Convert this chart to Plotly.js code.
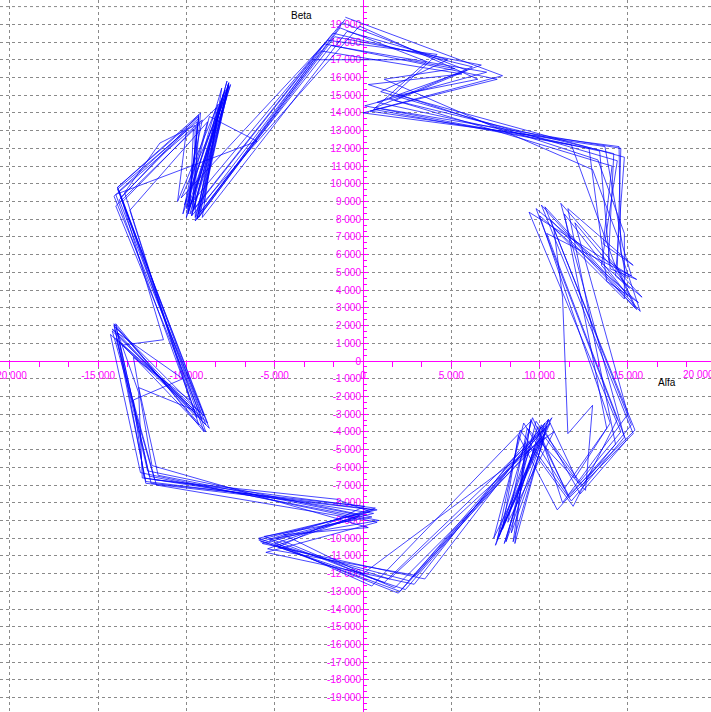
<!DOCTYPE html>
<html>
<head>
<meta charset="utf-8">
<script src="https://cdn.plot.ly/plotly-3.0.1.min.js"></script>
<style>
  html, body { margin: 0; padding: 0; background: #ffffff; }
  #chart { width: 711px; height: 712px; }
</style>
</head>
<body>
<div id="chart"></div>
<script>
// Alfa / Beta trajectory (one row per revolution)
const alfa = [
  -1000, 7900, 0, 14500, 14600, 15700, 10300, 15400, 11600, 9600, 7500, 10500, 2000, -5900, 800, -12300, -14100, -8900, -13900, -9300, -9900, -7600, -9400,
  -1600, 6700, 800, 13400, 14000, 15500, 9400, 14600, 12200, 10500, 8600, 9200, 2900, -5500, 800, -12600, -14300, -9100, -14000, -8300, -9400, -7700, -10300,
  -2000, 4200, 1500, 14100, 13600, 15300, 11600, 14300, 11000, 8800, 7900, 10100, 1500, -5000, -200, -11600, -12700, -9500, -13600, -11300, -13700, -10000, -10500, -8200, -9000,
  -2400, 5600, 300, 13300, 14800, 14800, 10800, 11300, 11600, 13000, 12600, 9300, 8200, 10800, 0, -4500, 300, -11950, -13000, -9800, -13200, -8800, -10100, -7800, -9700,
  -200, 6500, 2000, 14800, 14300, 15100, 12000, 15000, 11300, 9900, 7700, 10300, 3500, -5700, -400, -11700, -14000, -9300, -13500, -11500, -9500, -9600, -7600, -9200,
  -1300, 3600, 600, 12800, 13800, 15600, 10000, 14000, 12000, 10300, 8400, 9500, 500, -5300, 600, -12400, -13000, -10200, -14200, -8700, -14100, -9100, -10200, -7900, -9500,
  -2800, 2500, 5200, 1200, 13000, 14500, 14900, 11200, 14800, 11800, 8900, 7600, 10200, 2400, -4800, 100, -12000, -13800, -9000, -13600, -9600, -9800, -8000, -9300,
  -1800, 7000, 100, 11800, 14200, 15400, 10600, 15200, 12400, 9800, 8100, 10400, 1200, -5600, 500, -12200, -14100, -8900, -13800, -9300, -10000, -7500, -9600,
  -1200, 5900, 1800, 14200, 13900, 15800, 9800, 14400, 11900, 9400, 7800, 10600, 2600, -5800, 700, -12500, -12700, -14000, -9200, -13800, -9200, -9700, -7700, -9800,
  -2200, 7600, 400, 13700, 14700, 15200, 10400, 14900, 12300, 10100, 8000, 9700, 1800, -4900, 900, -12100, -13900, -9400, -14000, -6000, -8700, -10000, -8000, -9100,
  -900, 4800, 1000, 14400, 13500, 15000, 11400, 13800, 11400, 9100, 7400, 10700, 3000, -5400, 400, -1500, -11800, -14200, -8800, -13900, -9400, -9500, -7600, -9900,
  -1700, 6200, 700, 14600, 14400, 15500, 10100, 15300, 11700, 9500, 8500, 10300, 2100, -5900, 600, -12300, -14000, -9000, -13900, -9300, -9900, -7600, -9300,
  -1000
];
const beta = [
  19400, 16100, 14000, 12100, 6100, 2800, 8700, -3900, -7600, -3200, -10400, -3300, -13100, -10000, -8400, -6800, 2100, -4000, 9800, 13900, 8400, 15700, 8000,
  18300, 16700, 14600, 11850, 5200, 4600, 8400, -4000, -6900, -3300, -10300, -4600, -12600, -10800, -9100, -6300, 1500, -3300, 8750, 14300, 8000, 15000, 9200,
  18100, 17300, 14800, 11000, 6600, 5400, 8600, -4700, -8400, -4200, -9500, -4400, -12300, -10300, -8700, -6450, -1500, -2800, 900, 1200, 9250, 13000, 9000, 14500, 8900,
  17500, 16200, 15600, 11350, 7200, 3500, 7500, 3600, -4100, -2500, -7300, -3800, -9100, -4000, -12000, -9800, -9400, -5900, 200, -2200, 8500, 13500, 8800, 15300, 8200,
  18900, 15900, 15000, 11500, 4800, 4100, 7800, -3000, -8000, -3700, -9900, -3500, -12300, -10300, -8900, -7000, 1300, -3600, 9500, 12300, 13300, 8600, 15500, 8400,
  18800, 16900, 14200, 12000, 4500, 3300, 8200, -3500, -6600, -4300, -9700, -3400, -12700, -10100, -8600, -6600, -2200, -1000, 1800, -3800, 9300, 13600, 8300, 15100, 7900,
  17000, 17000, 16500, 15900, 10800, 6800, 4700, 8900, -4300, -7900, -3900, -10100, -3900, -12900, -10500, -8200, -6900, 1100, -3100, 9000, 13100, 8700, 14800, 8300,
  17800, 16300, 14400, 12200, 5600, 3000, 8000, -3600, -7000, -3400, -10200, -3700, -12500, -9900, -8800, -6200, 2000, -3600, 9600, 13700, 8100, 15600, 8500,
  19100, 16400, 14700, 11700, 5700, 3600, 8600, -3300, -8200, -4800, -9600, -3500, -12400, -10200, -8300, -6600, -1800, 1900, -2900, 9100, 14000, 8200, 15800, 8300,
  17900, 15900, 14100, 12100, 6500, 4800, 7200, -4500, -7500, -3600, -10300, -4900, -12800, -10000, -9000, -6500, 1600, -3200, 9400, 12400, 13800, 8600, 15400, 8100,
  18600, 17000, 15200, 11300, 5400, 3700, 8300, -3800, -7200, -3500, -10000, -3200, -12100, -10600, -8500, -7800, -6700, 1700, -3500, 9700, 13500, 8100, 15600, 8700,
  18500, 16600, 14300, 12000, 5300, 2900, 8800, -4100, -7700, -3300, -10200, -4100, -13000, -10100, -8400, -6900, 2100, -4000, 9800, 13800, 8300, 15700, 8100,
  19300
];

// Axis ticks
const xTickVals = [-20000, -15000, -10000, -5000, 0, 5000, 10000, 15000];
const yTickVals = [-19000, -18000, -17000, -16000, -15000, -14000, -13000, -12000, -11000, -10000,
                   -9000, -8000, -7000, -6000, -5000, -4000, -3000, -2000, -1000, 0,
                   1000, 2000, 3000, 4000, 5000, 6000, 7000, 8000, 9000, 10000,
                   11000, 12000, 13000, 14000, 15000, 16000, 17000, 18000, 19000];

// "19 000" style: space as thousands separator, plain hyphen for negatives
function fmt(v) {
  const digits = Math.abs(v).toString().replace(/\B(?=(\d{3})+(?!\d))/g, ' ');
  return (v < 0 ? '-' : '') + digits;
}

const X_RANGE = [-20555, 19706];
const Y_RANGE = [-19808, 20372];
// axes cross at the origin
const xAxisPos = (0 - Y_RANGE[0]) / (Y_RANGE[1] - Y_RANGE[0]);
const yAxisPos = (0 - X_RANGE[0]) / (X_RANGE[1] - X_RANGE[0]);

const MAGENTA = '#ff00ff';
const GRID = '#8a8a8a';
const tickFont = { family: 'Arial, "Liberation Sans", sans-serif', size: 10, color: MAGENTA };

const trace = {
  type: 'scatter',
  mode: 'lines',
  x: alfa,
  y: beta,
  opacity: 0.8,
  line: { color: '#0000ff', width: 0.9 },
  hoverinfo: 'skip'
};

const layout = {
  width: 711,
  height: 712,
  margin: { l: 0, r: 0, t: 0, b: 0 },
  paper_bgcolor: '#ffffff',
  plot_bgcolor: '#ffffff',
  showlegend: false,
  xaxis: {
    range: X_RANGE,
    anchor: 'free',
    position: xAxisPos,
    tickmode: 'array',
    tickvals: xTickVals,
    ticktext: xTickVals.map(fmt),
    ticks: 'outside',
    ticklen: 5,
    tickwidth: 1,
    tickcolor: MAGENTA,
    tickfont: tickFont,
    ticklabeloverflow: 'allow',
    showline: true,
    linecolor: MAGENTA,
    linewidth: 1,
    showgrid: true,
    gridcolor: GRID,
    gridwidth: 1,
    griddash: '3px,3px',
    zeroline: false,
    layer: 'below traces',
    minor: { tickmode: 'linear', tick0: 0, dtick: 5000 / 3, ticks: 'outside', ticklen: 5, tickcolor: MAGENTA, showgrid: false }
  },
  yaxis: {
    range: Y_RANGE,
    anchor: 'free',
    position: yAxisPos,
    tickmode: 'array',
    tickvals: yTickVals,
    ticktext: yTickVals.map(fmt),
    ticks: 'inside',
    ticklen: 4,
    tickwidth: 1,
    tickcolor: MAGENTA,
    tickfont: tickFont,
    ticklabeloverflow: 'allow',
    showline: true,
    linecolor: MAGENTA,
    linewidth: 1,
    showgrid: true,
    gridcolor: GRID,
    gridwidth: 1,
    griddash: '3px,3px',
    zeroline: false,
    layer: 'below traces',
    minor: { tickmode: 'linear', tick0: 0, dtick: 1000 / 3, ticks: 'inside', ticklen: 3, tickcolor: MAGENTA, showgrid: false }
  },
  shapes: [
    // top grid line at 20 000
    { type: 'line', xref: 'paper', x0: 0, x1: 1, yref: 'y', y0: 20000, y1: 20000,
      line: { color: GRID, width: 1, dash: '3px,3px' }, layer: 'below' }
  ],
  annotations: [
    { text: 'Beta', xref: 'x', yref: 'y', x: -3510, y: 19470, showarrow: false,
      font: { family: 'Arial, "Liberation Sans", sans-serif', size: 10, color: '#000000' } },
    { text: 'Alfa', xref: 'x', yref: 'y', x: 17210, y: -1240, showarrow: false,
      font: { family: 'Arial, "Liberation Sans", sans-serif', size: 10, color: '#000000' } },
    { text: fmt(20000), xref: 'paper', yref: 'paper', x: (20000 - X_RANGE[0]) / (X_RANGE[1] - X_RANGE[0]),
      y: xAxisPos, yanchor: 'top', yshift: -6, showarrow: false, font: tickFont }
  ]
};

Plotly.newPlot('chart', [trace], layout, { staticPlot: true, displayModeBar: false });
</script>
</body>
</html>
